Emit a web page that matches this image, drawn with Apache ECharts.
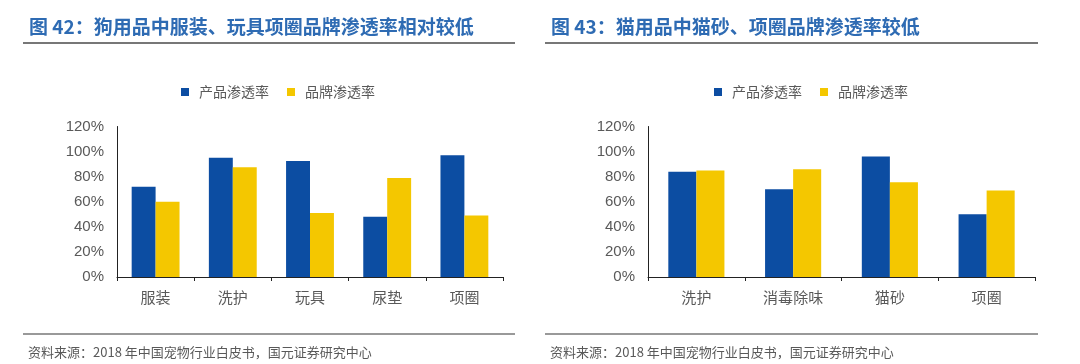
<!DOCTYPE html>
<html>
<head>
<meta charset="utf-8">
<script src="https://cdn.jsdelivr.net/npm/echarts@6/dist/echarts.min.js"></script>
<style>
html,body{margin:0;padding:0;background:#fff;}
#c{width:1080px;height:364px;}
</style>
</head>
<body>
<div id="c"></div>
<script>
// ---- data ----
const titleLeft = '图 42：狗用品中服装、玩具项圈品牌渗透率相对较低';
const titleRight = '图 43：猫用品中猫砂、项圈品牌渗透率较低';
const sourceText = '资料来源：2018 年中国宠物行业白皮书，国元证券研究中心';
const seriesNames = ['产品渗透率', '品牌渗透率'];
const dogCategories = ['服装', '洗护', '玩具', '尿垫', '项圈'];
const dogProduct = [72, 95, 92.5, 48, 97];
const dogBrand = [60, 87.5, 51, 79, 49];
const catCategories = ['洗护', '消毒除味', '猫砂', '项圈'];
const catProduct = [84, 70, 96, 50];
const catBrand = [85, 86, 75.5, 69];
const yTicks = { min: 0, max: 120, interval: 20 };

const BLUE = '#0c4da2';
const YELLOW = '#f4c700';
const TITLE = '#2e6bb3';
const GRAY = '#595959';
const CJK = '"Noto Sans CJK SC", "Noto Sans", sans-serif';

const chart = echarts.init(document.getElementById('c'));

function yAxis(gi) {
  return {
    gridIndex: gi, type: 'value', min: yTicks.min, max: yTicks.max, interval: yTicks.interval,
    axisLine: { show: true, lineStyle: { color: '#222', width: 1 } },
    axisTick: { show: false },
    splitLine: { show: false },
    axisLabel: { formatter: '{value}%', color: GRAY, fontSize: 15, fontFamily: '"Liberation Sans", Arial, sans-serif', margin: 13 }
  };
}
function xAxis(gi, cats) {
  return {
    gridIndex: gi, type: 'category', data: cats,
    axisLine: { show: true, lineStyle: { color: '#222', width: 1 } },
    axisTick: { show: true, length: 4, inside: false, lineStyle: { color: '#222' } },
    axisLabel: { color: GRAY, fontSize: 15, fontFamily: CJK, margin: 13 }
  };
}
function legend(left) {
  return {
    left: left, top: 80, itemWidth: 8, itemHeight: 8, icon: 'rect', itemGap: 18,
    data: seriesNames.map(n => n),
    textStyle: { color: GRAY, fontSize: 14, fontFamily: CJK, padding: [0, 0, 0, 5] }
  };
}

chart.setOption({
  animation: false,
  backgroundColor: '#fff',
  title: [
    { text: titleLeft, left: 24, top: 12, textStyle: { color: TITLE, fontSize: 19, fontWeight: 'bold', fontFamily: CJK } },
    { text: titleRight, left: 546, top: 12, textStyle: { color: TITLE, fontSize: 19, fontWeight: 'bold', fontFamily: CJK } },
    { text: sourceText, left: 23, top: 341, textStyle: { color: GRAY, fontSize: 13, fontWeight: 'normal', fontFamily: CJK } },
    { text: sourceText, left: 545, top: 341, textStyle: { color: GRAY, fontSize: 13, fontWeight: 'normal', fontFamily: CJK } }
  ],
  graphic: [
    { type: 'line', shape: { x1: 23, y1: 43, x2: 515, y2: 43 }, style: { stroke: '#777', lineWidth: 2 } },
    { type: 'line', shape: { x1: 545, y1: 43, x2: 1038, y2: 43 }, style: { stroke: '#777', lineWidth: 2 } },
    { type: 'line', shape: { x1: 23, y1: 334, x2: 515, y2: 334 }, style: { stroke: '#777', lineWidth: 1.5 } },
    { type: 'line', shape: { x1: 545, y1: 334, x2: 1038, y2: 334 }, style: { stroke: '#777', lineWidth: 1.5 } }
  ],
  legend: [
    Object.assign(legend(176), { id: 'l0' }),
    Object.assign(legend(709), { id: 'l1' })
  ],
  grid: [
    { left: 117, right: 577, top: 126.5, bottom: 87 },
    { left: 648, right: 45, top: 126.5, bottom: 87 }
  ],
  xAxis: [xAxis(0, dogCategories), xAxis(1, catCategories)],
  yAxis: [yAxis(0), yAxis(1)],
  series: [
    { name: seriesNames[0], type: 'bar', xAxisIndex: 0, yAxisIndex: 0, data: dogProduct, itemStyle: { color: BLUE }, barGap: '0%', barCategoryGap: '38%' },
    { name: seriesNames[1], type: 'bar', xAxisIndex: 0, yAxisIndex: 0, data: dogBrand, itemStyle: { color: YELLOW }, barGap: '0%', barCategoryGap: '38%' },
    { name: seriesNames[0], type: 'bar', xAxisIndex: 1, yAxisIndex: 1, data: catProduct, itemStyle: { color: BLUE }, barGap: '0%', barCategoryGap: '42%' },
    { name: seriesNames[1], type: 'bar', xAxisIndex: 1, yAxisIndex: 1, data: catBrand, itemStyle: { color: YELLOW }, barGap: '0%', barCategoryGap: '42%' }
  ]
});
</script>
</body>
</html>
